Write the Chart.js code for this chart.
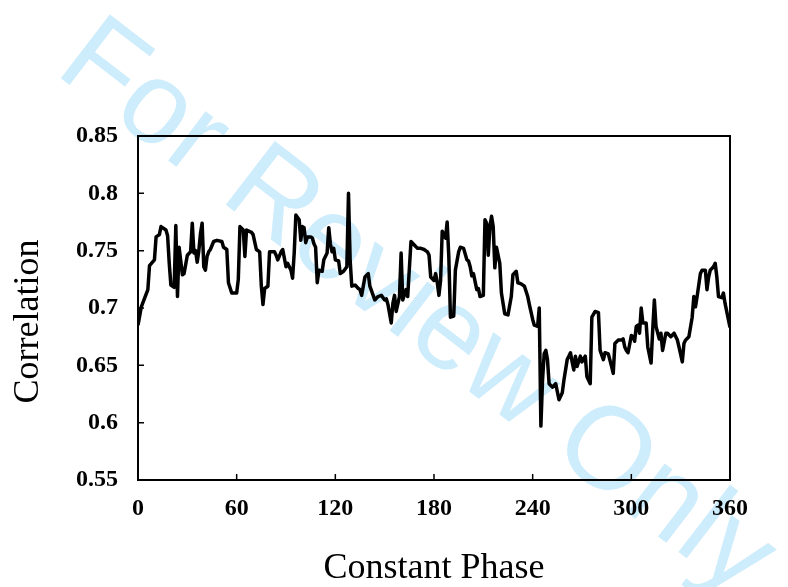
<!DOCTYPE html>
<html lang="en">
<head>
    <meta charset="UTF-8">
    <title>Correlation vs Constant Phase</title>
    <script src="https://cdn.jsdelivr.net/npm/chart.js"></script>
    <style>
        html, body { margin: 0; padding: 0; background: #ffffff; }
        .chart-box { position: relative; width: 788px; height: 587px; }
    </style>
</head>
<body>
    <div class="chart-box">
        <canvas id="phaseChart"></canvas>
    </div>

    <script>
        // data
        const phase = [
            0, 2, 6, 7, 10, 11, 13, 14, 17, 18, 19, 20, 22, 23, 24, 25, 27, 28, 30, 32,
            33, 34, 35, 36, 37, 38, 39, 40, 41, 42, 43, 44, 46, 48, 51, 52, 54, 55, 57, 60,
            61, 62, 64, 65, 66, 69, 70, 72, 74, 75, 76, 77, 79, 80, 83, 84, 85, 87, 88, 90,
            91, 93, 94, 95, 96, 98, 99, 100, 101, 102, 103, 105, 106, 107, 108, 109, 110, 112, 113, 115,
            116, 117, 118, 119, 120, 122, 123, 125, 127, 128, 129, 130, 132, 134, 135, 136, 137, 138, 140, 141,
            143, 144, 146, 148, 150, 151, 152, 154, 155, 156, 157, 159, 160, 161, 163, 164, 166, 168, 170, 172,
            174, 176, 177, 178, 180, 181, 182, 183, 184, 185, 187, 188, 189, 190, 192, 193, 195, 196, 198, 200,
            201, 202, 203, 204, 206, 207, 208, 210, 211, 212, 213, 214, 215, 216, 217, 218, 220, 221, 223, 225,
            227, 228, 230, 231, 233, 235, 237, 238, 240, 241, 243, 244, 245, 246, 247, 248, 249, 250, 252, 254,
            256, 258, 259, 261, 262, 263, 264, 265, 266, 267, 269, 270, 272, 273, 275, 276, 278, 280, 281, 283,
            284, 286, 288, 289, 290, 292, 294, 295, 296, 297, 298, 300, 301, 302, 303, 304, 305, 306, 307, 309,
            310, 312, 313, 314, 315, 317, 318, 319, 321, 322, 324, 326, 328, 329, 331, 332, 333, 335, 337, 338,
            339, 340, 342, 343, 345, 346, 347, 348, 350, 351, 352, 353, 355, 356, 357, 359, 360
        ];
        const corr = [
            0.685, 0.701, 0.716, 0.737, 0.742, 0.762, 0.764, 0.771, 0.768, 0.763, 0.739, 0.720, 0.718, 0.772, 0.710, 0.753, 0.729, 0.730, 0.746, 0.749,
            0.774, 0.748, 0.750, 0.740, 0.750, 0.765, 0.774, 0.736, 0.733, 0.745, 0.749, 0.751, 0.758, 0.759, 0.758, 0.753, 0.751, 0.722, 0.713, 0.713,
            0.725, 0.771, 0.768, 0.745, 0.768, 0.766, 0.764, 0.751, 0.749, 0.719, 0.703, 0.717, 0.719, 0.749, 0.749, 0.746, 0.742, 0.749, 0.751, 0.736,
            0.739, 0.733, 0.726, 0.748, 0.781, 0.777, 0.759, 0.771, 0.770, 0.757, 0.762, 0.762, 0.761, 0.756, 0.753, 0.722, 0.733, 0.732, 0.742, 0.748,
            0.770, 0.756, 0.749, 0.752, 0.742, 0.741, 0.730, 0.732, 0.736, 0.800, 0.742, 0.719, 0.720, 0.717, 0.716, 0.711, 0.719, 0.727, 0.730, 0.719,
            0.711, 0.707, 0.710, 0.711, 0.707, 0.708, 0.703, 0.687, 0.704, 0.711, 0.697, 0.710, 0.748, 0.707, 0.716, 0.710, 0.758, 0.755, 0.752, 0.752,
            0.751, 0.749, 0.746, 0.727, 0.724, 0.730, 0.722, 0.711, 0.724, 0.767, 0.761, 0.775, 0.745, 0.692, 0.693, 0.733, 0.749, 0.753, 0.752, 0.742,
            0.741, 0.736, 0.728, 0.730, 0.716, 0.717, 0.710, 0.711, 0.777, 0.774, 0.746, 0.771, 0.780, 0.771, 0.735, 0.753, 0.739, 0.713, 0.695, 0.694,
            0.710, 0.729, 0.732, 0.722, 0.721, 0.719, 0.710, 0.703, 0.690, 0.685, 0.684, 0.700, 0.597, 0.637, 0.660, 0.663, 0.655, 0.634, 0.631, 0.634,
            0.620, 0.626, 0.637, 0.655, 0.658, 0.661, 0.653, 0.646, 0.658, 0.649, 0.658, 0.653, 0.658, 0.640, 0.634, 0.692, 0.697, 0.696, 0.663, 0.655,
            0.661, 0.660, 0.649, 0.643, 0.669, 0.672, 0.672, 0.673, 0.666, 0.663, 0.661, 0.676, 0.675, 0.671, 0.684, 0.685, 0.678, 0.700, 0.687, 0.687,
            0.666, 0.652, 0.681, 0.707, 0.684, 0.673, 0.678, 0.663, 0.678, 0.678, 0.675, 0.678, 0.672, 0.666, 0.653, 0.669, 0.672, 0.675, 0.692, 0.710,
            0.701, 0.710, 0.730, 0.733, 0.733, 0.716, 0.727, 0.733, 0.736, 0.739, 0.727, 0.710, 0.709, 0.713, 0.704, 0.690, 0.683
        ];
        const xTicks = [0, 60, 120, 180, 240, 300, 360];
        const yTicks = [0.55, 0.6, 0.65, 0.7, 0.75, 0.8, 0.85];

        const serif = "'Liberation Serif', 'Times New Roman', serif";

        // pale "For Review Only" stamp behind the plot
        const watermark = {
            id: 'watermark',
            beforeDraw(chart) {
                const ctx = chart.ctx;
                ctx.save();
                ctx.translate(416, 310);
                ctx.rotate(37.5 * Math.PI / 180);
                ctx.font = "117px 'Liberation Sans', Arial, sans-serif";
                ctx.fillStyle = 'rgb(205, 236, 252)';
                ctx.textAlign = 'center';
                ctx.textBaseline = 'middle';
                ctx.fillText('For Review Only', 0, 0);
                ctx.restore();
            }
        };

        // box around the plot and inward tick marks
        const frame = {
            id: 'frame',
            afterDatasetsDraw(chart) {
                const {ctx, chartArea: a, scales} = chart;
                ctx.save();
                ctx.strokeStyle = '#000';
                ctx.lineWidth = 2;
                ctx.strokeRect(a.left, a.top, a.right - a.left, a.bottom - a.top);
                ctx.lineWidth = 1.5;
                ctx.beginPath();
                yTicks.forEach(v => {
                    const y = scales.y.getPixelForValue(v);
                    ctx.moveTo(a.left, y);
                    ctx.lineTo(a.left + 6, y);
                });
                xTicks.forEach(v => {
                    const x = scales.x.getPixelForValue(v);
                    ctx.moveTo(x, a.bottom);
                    ctx.lineTo(x, a.bottom - 6);
                });
                ctx.stroke();
                ctx.restore();
            }
        };

        new Chart(document.getElementById('phaseChart'), {
            type: 'line',
            data: {
                datasets: [{
                    data: phase.map((p, i) => ({x: p, y: corr[i]})),
                    borderColor: '#000',
                    borderWidth: 3.5,
                    pointRadius: 0,
                    tension: 0,
                    borderJoinStyle: 'round'
                }]
            },
            options: {
                responsive: true,
                maintainAspectRatio: false,
                animation: false,
                layout: { padding: { top: 136, right: 58, bottom: 0, left: 0 } },
                plugins: {
                    legend: { display: false },
                    tooltip: { enabled: false }
                },
                scales: {
                    x: {
                        type: 'linear',
                        min: 0,
                        max: 360,
                        afterFit(scale) { scale.height = 107; },
                        afterBuildTicks(scale) { scale.ticks = xTicks.map(v => ({value: v})); },
                        grid: { display: false },
                        border: { display: false },
                        ticks: {
                            padding: 6,
                            color: '#000',
                            font: { family: serif, size: 24, weight: 'bold' }
                        },
                        title: {
                            display: true,
                            text: 'Constant Phase',
                            color: '#000',
                            padding: { top: 0, bottom: -3 },
                            font: { family: serif, size: 36 }
                        }
                    },
                    y: {
                        min: 0.55,
                        max: 0.85,
                        afterFit(scale) { scale.width = 138; },
                        afterBuildTicks(scale) { scale.ticks = yTicks.map(v => ({value: v})); },
                        grid: { display: false },
                        border: { display: false },
                        ticks: {
                            padding: 12,
                            color: '#000',
                            font: { family: serif, size: 24, weight: 'bold' },
                            callback: v => String(parseFloat(v.toFixed(2)))
                        },
                        title: {
                            display: true,
                            // trailing spaces push the word a little below the plot centre, as in the original
                            text: 'Correlation\u00a0\u00a0\u00a0',
                            color: '#000',
                            padding: { top: 7, bottom: 0 },
                            font: { family: serif, size: 36 }
                        }
                    }
                }
            },
            plugins: [watermark, frame]
        });
    </script>
</body>
</html>
